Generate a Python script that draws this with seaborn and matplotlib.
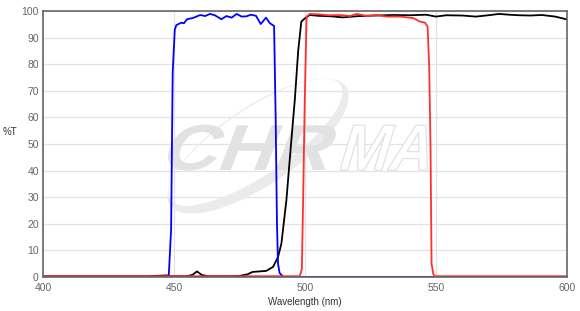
import numpy as np
import pandas as pd
import matplotlib
matplotlib.use("Agg")
import matplotlib.pyplot as plt
import seaborn as sns
from matplotlib.patches import PathPatch
from matplotlib.path import Path
from matplotlib.textpath import TextPath
from matplotlib.font_manager import FontProperties
from matplotlib.transforms import Affine2D, IdentityTransform

# ---- data ----
blue_wl = [400, 447, 448, 448.9, 449.5, 450.3, 450.9, 452.8, 453.8, 455, 457.3, 460, 461.9,
           463.7, 465.6, 468.1, 470, 472, 473.9, 475.8, 477.7, 479.3, 481.3, 483.1, 485.1,
           486.6, 488.2, 488.8, 489.3, 489.7, 490.3, 491.5, 492, 600]
blue_t = [0, 0, 0.5, 18, 77, 93, 94.7, 95.6, 95.4, 96.9, 97.4, 98.5, 98.1,
          98.9, 98.4, 96.9, 98.1, 97.5, 98.9, 97.9, 98.0, 98.6, 98.2, 95.1, 97.5,
          95.4, 94.4, 60, 20, 5, 1.5, 0.3, 0, 0]

black_wl = [400, 440, 447.4, 449, 455, 457, 458.8, 460.5, 463, 470, 475, 478, 480, 485.2,
            487.8, 489.7, 491, 492.9, 494.5, 496.1, 497.4, 498.6, 499.9, 501.8, 505, 510,
            514.3, 520.8, 527, 533.5, 540, 546.2, 550, 553.9, 560, 565.2, 570, 574.1, 578,
            581.7, 586, 590.4, 595.5, 599.3, 600]
black_t = [0.3, 0.3, 0.6, 0.3, 0.3, 0.8, 2.1, 0.8, 0.3, 0.3, 0.4, 1.0, 1.9, 2.3,
           3.8, 7.5, 12.6, 28.9, 48, 66.5, 85, 96, 97.2, 98.5, 98.2, 98,
           97.6, 98.1, 98.3, 98.5, 98.4, 98.6, 97.9, 98.4, 98.3, 97.9, 98.4, 98.9, 98.6,
           98.4, 98.3, 98.5, 97.9, 97.0, 96.9]

red_wl = [400, 498, 498.8, 499.3, 499.9, 500.6, 501.8, 505.7, 509, 513.3, 517.2, 519.7,
          523.5, 527.3, 531.2, 536.3, 541.4, 543.9, 545.8, 546.8, 547.4, 547.9, 548.3,
          549, 549.6, 600]
red_t = [0.3, 0.3, 3, 30, 66, 97.9, 98.9, 98.7, 98.4, 98.5, 98.1, 98.9,
         98.2, 98.5, 97.9, 97.9, 97.3, 96, 95.6, 94.1, 79, 50, 5,
         1, 0.3, 0.3]

x_ticks = [400, 450, 500, 550, 600]
y_ticks = [0, 10, 20, 30, 40, 50, 60, 70, 80, 90, 100]

sns.set_theme(style="white")
plt.rcParams['font.family'] = ['Liberation Sans', 'DejaVu Sans']

W, H = 580, 311
fig = plt.figure(figsize=(W / 100, H / 100), dpi=100)
ax = fig.add_axes([43 / W, 1 - 277 / H, (567 - 43) / W, (277 - 11) / H])
ax.set_axisbelow(True)


def fx(px):
    return px / W


def fy(py):
    return 1 - py / H


# ---- watermark (pixel coordinates, y measured up from bottom) ----
wm = "#e2e2e2"
ident = IdentityTransform()


def ell_pts(cx, cy, w, h, ang, n=240):
    t = np.linspace(0, 2 * np.pi, n)
    a = np.radians(ang)
    x0, y0 = w / 2 * np.cos(t), h / 2 * np.sin(t)
    return np.column_stack([cx + x0 * np.cos(a) - y0 * np.sin(a),
                            cy + x0 * np.sin(a) + y0 * np.cos(a)])


ang = 34
cx, cy = 258, H - 146
outer = ell_pts(cx, cy, 212, 78, ang)
dx, dy = -np.sin(np.radians(ang)) * 4.5, np.cos(np.radians(ang)) * 4.5
inner = ell_pts(cx + dx, cy + dy, 205, 66, ang)[::-1]
verts = np.vstack([outer, inner])
codes = ([Path.MOVETO] + [Path.LINETO] * (len(outer) - 2) + [Path.CLOSEPOLY]) * 2
cres = Path(verts, codes)
ax.add_patch(PathPatch(cres, transform=ident, facecolor="#ebebeb", edgecolor="none",
                       zorder=1))

fp = FontProperties(family="Liberation Sans", weight="bold")
tp = TextPath((0, 0), "CHR", size=65, prop=fp)
tr = Affine2D().skew_deg(18, 0).scale(1.2, 1.0).translate(158, H - 170)
ax.add_patch(PathPatch(tr.transform_path(tp), transform=ident, facecolor=wm,
                       edgecolor="none", zorder=1.1))
tp2 = TextPath((0, 0), "MA", size=65, prop=fp)
tr2 = Affine2D().skew_deg(18, 0).scale(0.92, 1.0).translate(336, H - 170)
ax.add_patch(PathPatch(tr2.transform_path(tp2), transform=ident, facecolor="white",
                       edgecolor=wm, lw=0.9, zorder=1.1))

# ---- data lines ----
sns.lineplot(x=black_wl, y=black_t, ax=ax, color="black", lw=1.3, sort=False,
             estimator=None, zorder=3)
sns.lineplot(x=blue_wl, y=blue_t, ax=ax, color="#0000ff", lw=1.3, sort=False,
             estimator=None, zorder=4)
sns.lineplot(x=red_wl, y=red_t, ax=ax, color="#ff3030", lw=1.3, sort=False,
             estimator=None, zorder=5)

ax.set_xlim(400, 600)
ax.set_ylim(0, 100)
ax.set_xticks(x_ticks)
ax.set_yticks(y_ticks)
ax.set_xticklabels([str(v) for v in x_ticks])
ax.set_yticklabels([str(v) for v in y_ticks])
ax.tick_params(axis="y", length=0, labelsize=7.5, colors="#666666", pad=3)
ax.tick_params(axis="x", length=0, labelsize=7.5, colors="#666666", pad=4)
ax.grid(True, color="#e3e3e3", lw=0.9)
for s in ax.spines.values():
    s.set_color("#666666")
    s.set_linewidth(1.2)
    s.set_zorder(6)

ax.set_xlabel("Wavelength (nm)", fontsize=7, color="#333333", labelpad=3)
ax.set_ylabel("")
fig.text(fx(10), fy(132), "%T", fontsize=7, color="#333333", ha="center", va="center")

fig.savefig("out.png", dpi=100)
